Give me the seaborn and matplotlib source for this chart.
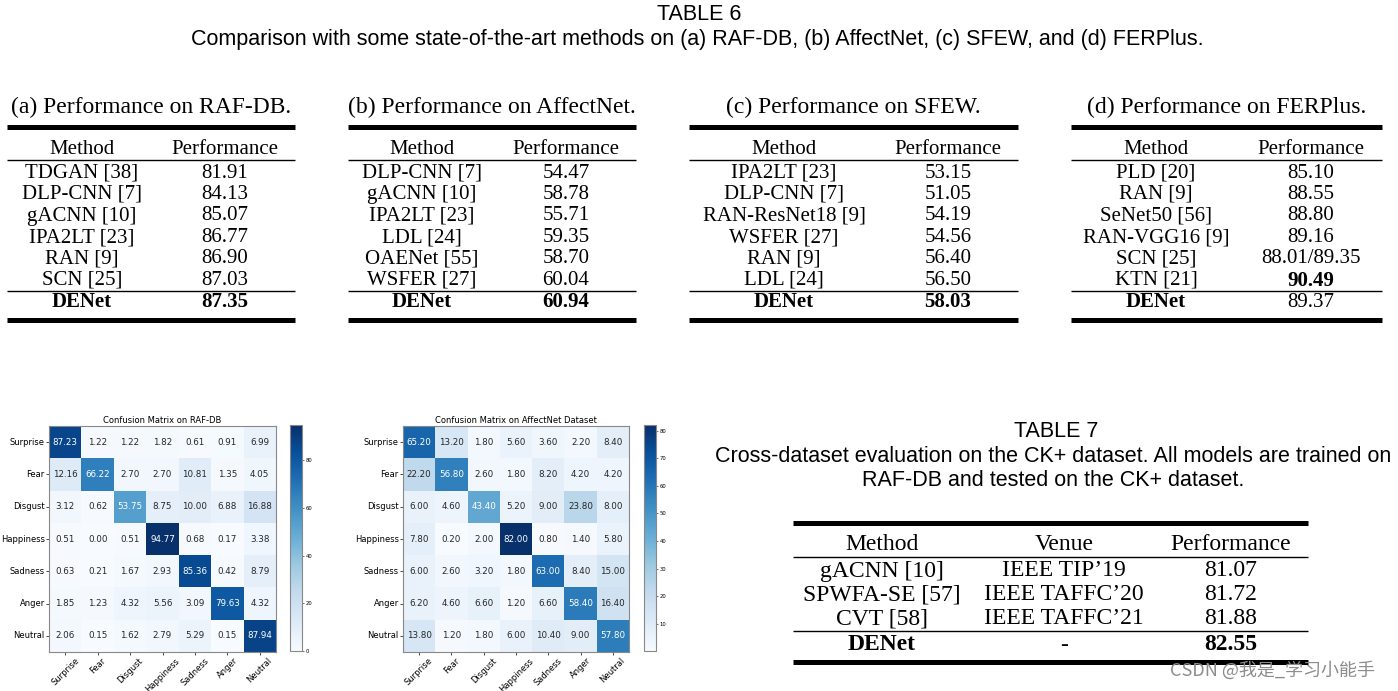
import matplotlib
matplotlib.use("Agg")
import matplotlib.pyplot as plt
import seaborn as sns
import pandas as pd
from matplotlib.lines import Line2D

W, H = 1398, 691
SERIF = "Liberation Serif"
SANS = "Liberation Sans"

# ---- data ----
emotions = ["Surprise", "Fear", "Disgust", "Happiness", "Sadness", "Anger", "Neutral"]

raf_cm = [
    [87.23, 1.22, 1.22, 1.82, 0.61, 0.91, 6.99],
    [12.16, 66.22, 2.70, 2.70, 10.81, 1.35, 4.05],
    [3.12, 0.62, 53.75, 8.75, 10.00, 6.88, 16.88],
    [0.51, 0.00, 0.51, 94.77, 0.68, 0.17, 3.38],
    [0.63, 0.21, 1.67, 2.93, 85.36, 0.42, 8.79],
    [1.85, 1.23, 4.32, 5.56, 3.09, 79.63, 4.32],
    [2.06, 0.15, 1.62, 2.79, 5.29, 0.15, 87.94],
]
affect_cm = [
    [65.20, 13.20, 1.80, 5.60, 3.60, 2.20, 8.40],
    [22.20, 56.80, 2.60, 1.80, 8.20, 4.20, 4.20],
    [6.00, 4.60, 43.40, 5.20, 9.00, 23.80, 8.00],
    [7.80, 0.20, 2.00, 82.00, 0.80, 1.40, 5.80],
    [6.00, 2.60, 3.20, 1.80, 63.00, 8.40, 15.00],
    [6.20, 4.60, 6.60, 1.20, 6.60, 58.40, 16.40],
    [13.80, 1.20, 1.80, 6.00, 10.40, 9.00, 57.80],
]

raf_methods = ["TDGAN [38]", "DLP-CNN [7]", "gACNN [10]", "IPA2LT [23]", "RAN [9]", "SCN [25]"]
raf_perf = ["81.91", "84.13", "85.07", "86.77", "86.90", "87.03"]
raf_ours = "87.35"

affect_methods = ["DLP-CNN [7]", "gACNN [10]", "IPA2LT [23]", "LDL [24]", "OAENet [55]", "WSFER [27]"]
affect_perf = ["54.47", "58.78", "55.71", "59.35", "58.70", "60.04"]
affect_ours = "60.94"

sfew_methods = ["IPA2LT [23]", "DLP-CNN [7]", "RAN-ResNet18 [9]", "WSFER [27]", "RAN [9]", "LDL [24]"]
sfew_perf = ["53.15", "51.05", "54.19", "54.56", "56.40", "56.50"]
sfew_ours = "58.03"

ferplus_methods = ["PLD [20]", "RAN [9]", "SeNet50 [56]", "RAN-VGG16 [9]", "SCN [25]", "KTN [21]"]
ferplus_perf = ["85.10", "88.55", "88.80", "89.16", "88.01/89.35", "90.49"]
ferplus_ours = "89.37"

ck_methods = ["gACNN [10]", "SPWFA-SE [57]", "CVT [58]"]
ck_venues = ["IEEE TIP\u201919", "IEEE TAFFC\u201920", "IEEE TAFFC\u201921"]
ck_perf = ["81.07", "81.72", "81.88"]
ck_ours = ["DENet", "-", "82.55"]

fig = plt.figure(figsize=(W / 100, H / 100), dpi=100)


def text(x, y, s, **kw):
    kw.setdefault("ha", "center")
    kw.setdefault("va", "center")
    # small shift so the visual centre lands on y
    fig.text(x / W, 1 - (y + 2) / H, s, **kw)


def rule(x0, x1, y, lw):
    fig.add_artist(Line2D([x0 / W, x1 / W], [1 - y / H] * 2, color="black",
                          lw=lw, solid_capstyle="butt"))


def small_table(x0, x1, cx, title, methods, perf, ours, bold_perf=None, ours_bold=True):
    text((x0 + x1) / 2, 105, title, size=17, family=SERIF)
    rule(x0, x1, 127, 3.6)
    text(cx[0], 147, "Method", size=15, family=SERIF)
    text(cx[1], 147, "Performance", size=15, family=SERIF)
    rule(x0, x1, 160, 1.0)
    for i, (m, p) in enumerate(zip(methods, perf)):
        y = 171 + i * 21.5
        text(cx[0], y, m, size=15, family=SERIF)
        text(cx[1], y, p, size=15, family=SERIF,
             weight="bold" if p == bold_perf else "normal")
    rule(x0, x1, 291, 1.0)
    text(cx[0], 300, "DENet", size=15, family=SERIF, weight="bold")
    text(cx[1], 300, ours, size=15, family=SERIF,
         weight="bold" if ours_bold else "normal")
    rule(x0, x1, 320, 3.6)


# ---- TABLE 6 ----
text(699, 13, "TABLE 6", size=15.5, family=SANS)
text(697, 37, "Comparison with some state-of-the-art methods on (a) RAF-DB, (b) AffectNet, "
     "(c) SFEW, and (d) FERPlus.", size=15.5, family=SANS)

small_table(7, 295, (82, 225), "(a) Performance on RAF-DB.", raf_methods, raf_perf, raf_ours)
small_table(348, 636, (422, 566), "(b) Performance on AffectNet.", affect_methods, affect_perf, affect_ours)
small_table(689, 1018, (784, 948), "(c) Performance on SFEW.", sfew_methods, sfew_perf, sfew_ours)
small_table(1071, 1382, (1156, 1311), "(d) Performance on FERPlus.", ferplus_methods, ferplus_perf,
            ferplus_ours, bold_perf="90.49", ours_bold=False)

# ---- TABLE 7 ----
text(1056, 430, "TABLE 7", size=15.5, family=SANS)
text(1053, 454, "Cross-dataset evaluation on the CK+ dataset. All models are trained on",
     size=15.5, family=SANS)
text(1053, 479, "RAF-DB and tested on the CK+ dataset.", size=15.5, family=SANS)

ck_x = (882, 1064, 1231)
rule(793, 1308, 523, 3.6)
for x, h in zip(ck_x, ["Method", "Venue", "Performance"]):
    text(x, 543, h, size=17, family=SERIF)
rule(793, 1308, 557, 1.0)
for i, row in enumerate(zip(ck_methods, ck_venues, ck_perf)):
    for x, s in zip(ck_x, row):
        text(x, 569 + i * 23.8, s, size=17, family=SERIF)
rule(793, 1308, 631, 1.0)
for x, s in zip(ck_x, ck_ours):
    text(x, 643, s, size=17, family=SERIF, weight="normal" if s == "-" else "bold")
rule(793, 1308, 662, 3.6)

# ---- confusion matrices ----
def conf_matrix(cm, rect, cbar_rect, title):
    ax = fig.add_axes([rect[0] / W, 1 - (rect[1] + rect[3]) / H, rect[2] / W, rect[3] / H])
    cax = fig.add_axes([cbar_rect[0] / W, 1 - (cbar_rect[1] + cbar_rect[3]) / H,
                        cbar_rect[2] / W, cbar_rect[3] / H])
    df = pd.DataFrame(cm, index=emotions, columns=emotions)
    sns.heatmap(df, ax=ax, cbar_ax=cax, cmap="Blues", annot=True, fmt=".2f",
                annot_kws={"size": 6.3})
    ax.set_title(title, fontsize=6, pad=2)
    ax.set_xticklabels(emotions, rotation=45, ha="center", fontsize=6)
    ax.set_yticklabels(emotions, rotation=0, fontsize=6)
    ax.tick_params(length=2, width=0.5, pad=1)
    for sp in ax.spines.values():
        sp.set_visible(True)
        sp.set_color("#888888")
        sp.set_linewidth(0.8)
    cbar = ax.collections[0].colorbar
    cbar.ax.tick_params(labelsize=3.8, length=1.5, width=0.4, pad=1)
    cbar.outline.set_edgecolor("#888888")
    cbar.outline.set_linewidth(0.8)


conf_matrix(raf_cm, (49, 426, 227, 226), (290, 425, 12, 226), "Confusion Matrix on RAF-DB")
conf_matrix(affect_cm, (403, 426, 226, 226), (644, 425, 12, 226), "Confusion Matrix on AffectNet Dataset")

# watermark
text(1273, 668, "CSDN @我是_学习小能手", size=13, color="#8c8c8c",
     family=["Noto Sans CJK SC", "DejaVu Sans"])

fig.savefig("out.png", dpi=100)
